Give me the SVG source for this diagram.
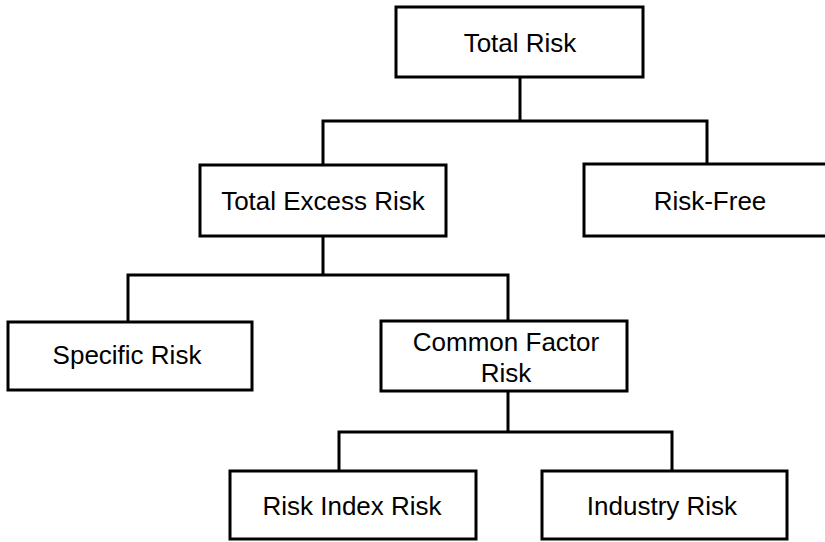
<svg xmlns="http://www.w3.org/2000/svg" width="825" height="542" viewBox="0 0 825 542">
<style>
.box{fill:#fff;stroke:#000;stroke-width:3}
.lbl{font-family:"Liberation Sans",Arial,Helvetica,sans-serif;font-size:26px;fill:#000;text-anchor:middle}
.conn{fill:none;stroke:#000;stroke-width:3;stroke-linejoin:miter;stroke-linecap:square}
</style>
<rect width="825" height="542" fill="#fff"/>
<g id="connectors">
<path class="conn" d="M520,77 V121 M323,121 H707 M323,121 V165 M707,121 V164"/>
<path class="conn" d="M323,236 V275 M128,275 H508 M128,275 V322 M508,275 V321"/>
<path class="conn" d="M508,391 V432 M339,432 H672 M339,432 V471 M672,432 V471"/>
</g>
<g id="total-risk">
<rect class="box" x="396" y="7" width="247" height="70"/>
<text class="lbl" x="520" y="52">Total Risk</text>
</g>
<g id="total-excess-risk">
<rect class="box" x="200" y="165" width="246" height="71"/>
<text class="lbl" x="323" y="210">Total Excess Risk</text>
</g>
<g id="risk-free">
<rect class="box" x="584" y="164" width="252" height="72"/>
<text class="lbl" x="710" y="210">Risk-Free</text>
</g>
<g id="specific-risk">
<rect class="box" x="8" y="322" width="244" height="68"/>
<text class="lbl" x="127" y="364">Specific Risk</text>
</g>
<g id="common-factor-risk">
<rect class="box" x="381" y="321" width="246" height="70"/>
<text class="lbl" x="506" y="351">Common Factor</text>
<text class="lbl" x="506" y="382">Risk</text>
</g>
<g id="risk-index-risk">
<rect class="box" x="230" y="471" width="246" height="68"/>
<text class="lbl" x="352" y="515">Risk Index Risk</text>
</g>
<g id="industry-risk">
<rect class="box" x="542" y="471" width="245" height="68"/>
<text class="lbl" x="662" y="515">Industry Risk</text>
</g>
</svg>
